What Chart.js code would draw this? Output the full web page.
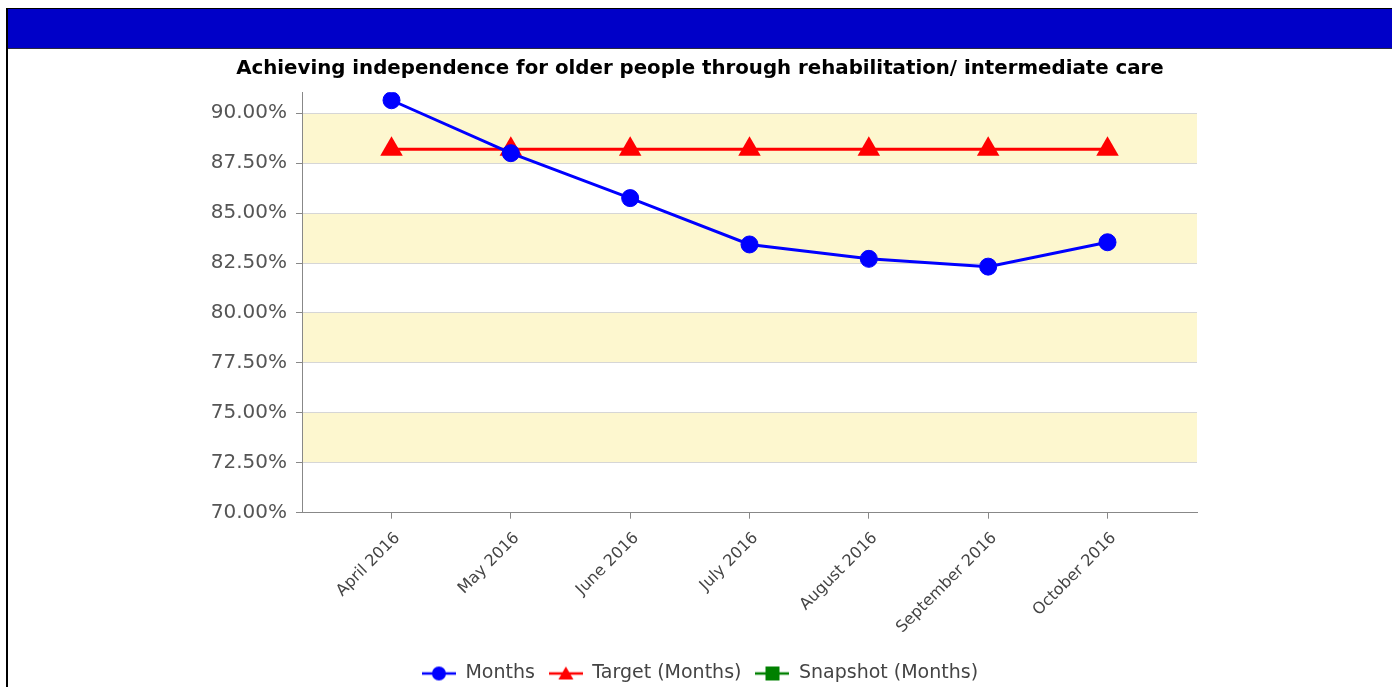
<!DOCTYPE html>
<html>
<head>
<meta charset="utf-8">
<script src="https://cdn.jsdelivr.net/npm/chart.js@4.4.1/dist/chart.umd.min.js"></script>
<style>
  html, body { margin: 0; padding: 0; background: #fff; overflow: hidden; width: 1392px; height: 687px; }
  #frame { position: absolute; left: 6px; top: 8px; width: 1400px; height: 700px; border-left: 2px solid #000; border-top: 1px solid #000; }
  #bar { height: 39px; background: #0000C8; border-bottom: 1px solid #2a2a40; }
  #c { display: block; }
</style>
</head>
<body>
<div id="frame">
  <div id="bar"></div>
  <canvas id="c" width="1384" height="644"></canvas>
</div>
<script>
const titleText = 'Achieving independence for older people through rehabilitation/ intermediate care';
const categories = ['April 2016', 'May 2016', 'June 2016', 'July 2016', 'August 2016', 'September 2016', 'October 2016'];
const monthsValues = [90.65, 88.0, 85.75, 83.43, 82.71, 82.32, 83.54];
const targetValues = [88.2, 88.2, 88.2, 88.2, 88.2, 88.2, 88.2];
const snapshotValues = [];
const yTickValues = [70, 72.5, 75, 77.5, 80, 82.5, 85, 87.5, 90];
const yMin = 70, yMax = 91.05;

const BLUE = '#0000FF', RED = '#FF0000', GREEN = '#008000';
const FAMILY = '"DejaVu Sans", Verdana, sans-serif';

function legendIcon(color, shape) {
  const c = document.createElement('canvas');
  c.width = 34; c.height = 18;
  const g = c.getContext('2d');
  g.strokeStyle = color; g.fillStyle = color; g.lineWidth = 2.5;
  g.beginPath(); g.moveTo(0, 9); g.lineTo(34, 9); g.stroke();
  g.beginPath();
  if (shape === 'circle') { g.arc(17, 9, 7, 0, Math.PI * 2); }
  else if (shape === 'triangle') { g.moveTo(17, 2); g.lineTo(24.5, 15); g.lineTo(9.5, 15); g.closePath(); }
  else { g.rect(10, 2, 14, 14); }
  g.fill();
  return c;
}
const icons = [legendIcon(BLUE, 'circle'), legendIcon(RED, 'triangle'), legendIcon(GREEN, 'square')];

const bandsPlugin = {
  id: 'bands',
  beforeDraw(chart) {
    const {ctx, chartArea} = chart;
    const y = chart.scales.y;
    ctx.save();
    ctx.fillStyle = '#FDF7CF';
    for (let i = 1; i + 1 < yTickValues.length; i += 2) {
      const top = y.getPixelForValue(yTickValues[i + 1]);
      const bot = y.getPixelForValue(yTickValues[i]);
      ctx.fillRect(chartArea.left, top, chartArea.right - chartArea.left, bot - top);
    }
    ctx.restore();
  }
};

new Chart(document.getElementById('c'), {
  type: 'line',
  data: {
    datasets: [
      {
        label: 'Months',
        data: monthsValues.map((v, i) => ({x: i, y: v})),
        borderColor: BLUE, backgroundColor: BLUE, borderWidth: 3,
        pointRadius: 8.5, pointBorderWidth: 1, pointStyle: 'circle', tension: 0
      },
      {
        label: 'Target (Months)',
        data: targetValues.map((v, i) => ({x: i, y: v})),
        borderColor: RED, backgroundColor: RED, borderWidth: 3,
        pointRadius: 13, pointBorderWidth: 0, pointStyle: 'triangle', tension: 0
      },
      {
        label: 'Snapshot (Months)',
        data: snapshotValues.map((v, i) => ({x: i, y: v})),
        borderColor: GREEN, backgroundColor: GREEN, borderWidth: 3,
        pointRadius: 7, pointStyle: 'rect'
      }
    ]
  },
  plugins: [bandsPlugin],
  options: {
    responsive: false,
    animation: false,
    devicePixelRatio: 1,
    events: [],
    layout: { padding: 0 },
    plugins: {
      tooltip: { enabled: false },
      title: {
        display: true, text: titleText, color: '#000',
        font: { family: FAMILY, size: 19.8, weight: 'bold' },
        padding: { top: 8.2, bottom: 11.3 }
      },
      legend: {
        position: 'bottom',
        labels: {
          usePointStyle: true, pointStyleWidth: 34, padding: 14,
          color: '#444', font: { family: FAMILY, size: 19 },
          generateLabels(chart) {
            return chart.data.datasets.map((ds, i) => ({
              text: ds.label, pointStyle: icons[i], fillStyle: ds.borderColor,
              strokeStyle: ds.borderColor, lineWidth: 0, hidden: false, datasetIndex: i, fontColor: '#444'
            }));
          }
        }
      }
    },
    scales: {
      x: {
        type: 'linear', min: -0.75, max: 6.75,
        afterBuildTicks(s) { s.ticks = categories.map((c, i) => ({value: i})); },
        afterFit(s) { s.height = 137.3; },
        ticks: {
          autoSkip: false, minRotation: 45, maxRotation: 45, padding: 10, labelOffset: 6,
          color: '#444', font: { family: FAMILY, size: 16 },
          callback: (v) => categories[v]
        },
        grid: { display: true, drawOnChartArea: false, tickLength: 6, color: '#888' },
        border: { color: '#888', width: 1 }
      },
      y: {
        type: 'linear', min: yMin, max: yMax, position: 'left',
        afterBuildTicks(s) { s.ticks = yTickValues.map(v => ({value: v})); },
        afterFit(s) { s.width = 294; },
        ticks: {
          padding: 9, color: '#555', font: { family: FAMILY, size: 20 },
          callback: (v) => Number(v).toFixed(2) + '%'
        },
        grid: { color: '#D6D6D6', tickColor: '#888', tickLength: 6, lineWidth: 1 },
        border: { color: '#888', width: 1 }
      },
      y2: {
        type: 'linear', position: 'right', display: true,
        afterFit(s) { s.width = 195; },
        ticks: { display: false },
        grid: { display: false },
        border: { display: false }
      }
    }
  }
});
</script>
</body>
</html>
